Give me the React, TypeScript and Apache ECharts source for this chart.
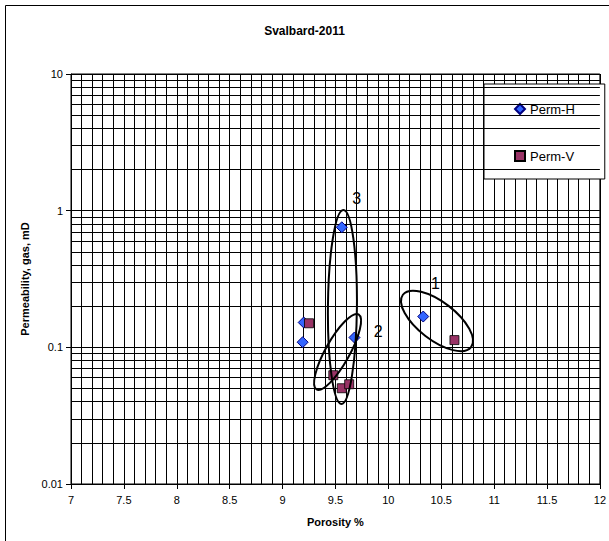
import React, { useEffect, useRef } from "react";
import * as echarts from "echarts";

const chartTitle = "Svalbard-2011";
const xAxisName = "Porosity %";
const yAxisName = "Permeability, gas, mD";
const seriesNames = ["Perm-H", "Perm-V"];

// [porosity %, permeability mD]
const permH: number[][] = [
  [9.2, 0.152],
  [9.19, 0.109],
  [9.56, 0.756],
  [9.68, 0.118],
  [10.33, 0.168],
];
const permV: number[][] = [
  [9.25, 0.15],
  [9.48, 0.0625],
  [9.56, 0.0502],
  [9.63, 0.0537],
  [10.625, 0.113],
];

const xMin = 7;
const xMax = 12;
const xStep = 0.5;
const yMin = 0.01;
const yMax = 10;
const logMinorMultipliers = [2, 3, 4, 5, 6, 7, 8, 9];
const logDecades = [0.01, 0.1, 1];

// grouping annotations (data coordinates)
const groupLabels = ["1", "2", "3"];
const groupCenters: number[][] = [
  [10.46, 0.156],
  [9.52, 0.0925],
  [9.566, 0.1975],
];
const groupLabelPos: number[][] = [
  [10.446, 0.294],
  [9.904, 0.13],
  [9.7, 1.22],
];
// ellipse shapes in pixels / degrees
const ellipseShapes = [
  { rx: 43, ry: 19, rot: -37.5 },
  { rx: 43, ry: 12, rot: 60.8 },
  { rx: 14.5, ry: 97, rot: -0.6 },
];

const FONT = '"Liberation Sans", Arial, sans-serif';

export default function App() {
  const ref = useRef<HTMLDivElement>(null);

  useEffect(() => {
    if (!ref.current) return;
    const chart = echarts.init(ref.current, undefined, { renderer: "svg" });

    const minorLines = logDecades.flatMap((d) =>
      logMinorMultipliers.map((m) => ({ yAxis: +(d * m).toPrecision(3) }))
    );

    const option: any = {
      animation: false,
      backgroundColor: "#fff",
      textStyle: { fontFamily: FONT },
      title: {
        text: chartTitle,
        left: "center",
        top: 20,
        textStyle: { fontSize: 12, fontWeight: "bold", color: "#000", fontFamily: FONT },
      },
      graphic: [
        {
          type: "rect",
          shape: { x: 5.5, y: 5.5, width: 800, height: 800 },
          style: { fill: "none", stroke: "#000", lineWidth: 1 },
          silent: true,
          z: 100,
        },
      ],
      grid: {
        left: 71,
        right: 6,
        top: 74,
        bottom: 57,
        show: true,
        borderColor: "#000",
        borderWidth: 1,
        backgroundColor: "transparent",
      },
      legend: {
        data: seriesNames,
        orient: "vertical",
        left: 484,
        top: 84,
        padding: [18, 30, 16, 30],
        itemGap: 33,
        itemWidth: 10,
        itemHeight: 10,
        backgroundColor: "#fff",
        borderColor: "#000",
        borderWidth: 1,
        borderRadius: 0,
        selectedMode: false,
        textStyle: { fontSize: 13, color: "#000", fontFamily: FONT, lineHeight: 14 },
      },
      xAxis: {
        type: "value",
        min: xMin,
        max: xMax,
        interval: xStep,
        name: xAxisName,
        nameLocation: "middle",
        nameGap: 32,
        nameTextStyle: { fontWeight: "bold", fontSize: 11, color: "#000", fontFamily: FONT },
        axisLine: { show: true, onZero: false, lineStyle: { color: "#000", width: 1 } },
        axisTick: { show: true, length: 5, lineStyle: { color: "#000" } },
        minorTick: { show: false, splitNumber: 5 },
        splitLine: { show: true, lineStyle: { color: "#000", width: 1 } },
        minorSplitLine: { show: true, lineStyle: { color: "#000", width: 1 } },
        axisLabel: {
          color: "#000",
          fontSize: 11,
          margin: 10,
          fontFamily: FONT,
          formatter: (v: number) => String(+v.toFixed(1)),
        },
      },
      yAxis: {
        type: "log",
        logBase: 10,
        min: yMin,
        max: yMax,
        name: yAxisName,
        nameLocation: "middle",
        nameGap: 40,
        nameTextStyle: { fontWeight: "bold", fontSize: 11, color: "#000", fontFamily: FONT },
        axisLine: { show: true, onZero: false, lineStyle: { color: "#000", width: 1 } },
        axisTick: { show: true, length: 5, lineStyle: { color: "#000" } },
        splitLine: { show: true, lineStyle: { color: "#000", width: 1 } },
        axisLabel: {
          color: "#000",
          fontSize: 11,
          margin: 8,
          fontFamily: FONT,
          formatter: (v: number) => String(+v.toPrecision(3)),
        },
      },
      series: [
        {
          name: "minor-grid",
          type: "scatter",
          data: [],
          z: 1,
          silent: true,
          markLine: {
            silent: true,
            symbol: ["none", "none"],
            label: { show: false },
            lineStyle: { color: "#000", width: 1, type: "solid" },
            emphasis: { disabled: true },
            data: minorLines,
          },
        },
        {
          name: seriesNames[0],
          type: "scatter",
          symbol: "diamond",
          symbolSize: 11,
          z: 5,
          data: permH,
          itemStyle: { color: "#3366ff", borderColor: "#000080", borderWidth: 1, opacity: 1 },
          emphasis: { disabled: true },
        },
        {
          name: seriesNames[1],
          type: "scatter",
          symbol: "rect",
          symbolSize: 9,
          z: 6,
          data: permV,
          itemStyle: { color: "#993366", borderColor: "#000", borderWidth: 0.8, opacity: 1 },
          emphasis: { disabled: true },
        },
        {
          name: "groups",
          type: "custom",
          z: 7,
          silent: true,
          encode: { x: 0, y: 1 },
          data: groupCenters.map((c, i) => [c[0], c[1], groupLabelPos[i][0], groupLabelPos[i][1]]),
          renderItem: (params: any, api: any) => {
            const i = params.dataIndex;
            const c = api.coord([api.value(0), api.value(1)]);
            const l = api.coord([api.value(2), api.value(3)]);
            const s = ellipseShapes[i];
            return {
              type: "group",
              children: [
                {
                  type: "ellipse",
                  x: c[0],
                  y: c[1],
                  rotation: (s.rot * Math.PI) / 180,
                  shape: { cx: 0, cy: 0, rx: s.rx, ry: s.ry },
                  style: { fill: "none", stroke: "#000", lineWidth: 2 },
                },
                {
                  type: "text",
                  x: l[0],
                  y: l[1],
                  style: {
                    text: groupLabels[i],
                    fill: "#000",
                    font: `16px ${FONT}`,
                    align: "center",
                    verticalAlign: "middle",
                  },
                },
              ],
            };
          },
        },
      ],
    };

    chart.setOption(option);
    return () => chart.dispose();
  }, []);

  return (
    <div
      ref={ref}
      style={{ position: "fixed", left: 0, top: 0, width: 609, height: 541, background: "#fff" }}
    />
  );
}
